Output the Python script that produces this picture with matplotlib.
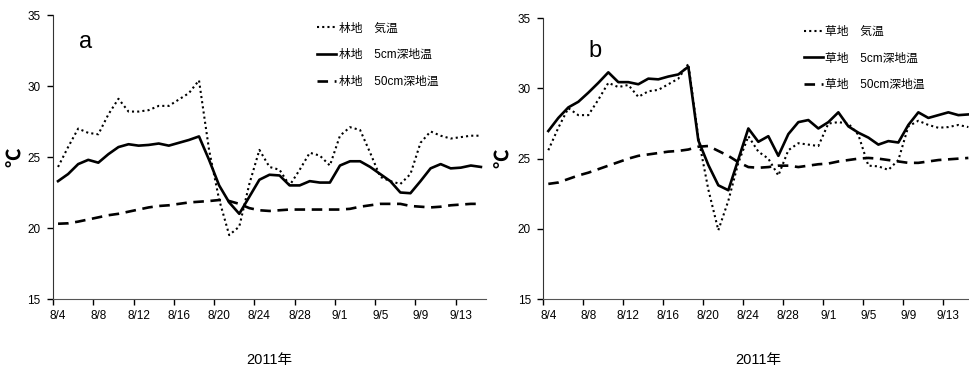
import matplotlib.pyplot as plt
from matplotlib.ticker import FixedLocator, NullFormatter

plt.rcParams['font.family'] = ['Liberation Sans', 'Noto Sans CJK JP']

# 8/4 - 9/15 daily
dates = [f"8/{d}" for d in range(4, 32)] + [f"9/{d}" for d in range(1, 16)]

# a: forest (林地)
a_air = [24.3, 25.7, 27.0, 26.7, 26.6, 28.0, 29.1, 28.2, 28.2, 28.3, 28.6, 28.6, 29.05, 29.5, 30.4,
         25.5, 22.0, 19.5, 20.1, 23.1, 25.5, 24.3, 24.1, 23.0, 24.1, 25.3, 25.1, 24.4, 26.5, 27.1,
         26.9, 25.3, 23.6, 23.3, 23.1, 23.8, 26.0, 26.8, 26.5, 26.3, 26.4, 26.5, 26.5]
a_5cm = [23.3, 23.8, 24.5, 24.8, 24.6, 25.2, 25.7, 25.9, 25.8, 25.85, 25.95, 25.8, 26.0, 26.2, 26.45,
         24.8, 23.0, 21.8, 21.0, 22.2, 23.4, 23.75, 23.7, 23.0, 23.0, 23.3, 23.2, 23.2, 24.4, 24.7,
         24.7, 24.3, 23.8, 23.3, 22.5, 22.45, 23.3, 24.2, 24.5, 24.2, 24.25, 24.4, 24.3]
a_50cm = [20.3, 20.33, 20.45, 20.6, 20.75, 20.9, 21.0, 21.15, 21.3, 21.45, 21.55, 21.6, 21.7, 21.8, 21.85,
          21.9, 21.97, 21.9, 21.7, 21.4, 21.25, 21.2, 21.25, 21.3, 21.3, 21.3, 21.3, 21.3, 21.3, 21.35,
          21.5, 21.6, 21.7, 21.7, 21.7, 21.55, 21.5, 21.45, 21.5, 21.6, 21.65, 21.7, 21.7]

# b: grassland (草地)
b_air = [25.6, 27.2, 28.6, 28.1, 28.1, 29.2, 30.4, 30.1, 30.25, 29.4, 29.8, 29.9, 30.3, 30.7, 31.75,
         26.5, 22.8, 19.9, 22.0, 24.7, 26.6, 25.5, 25.0, 23.8, 25.6, 26.1, 26.0, 25.9, 27.5, 27.6,
         27.5, 26.7, 24.5, 24.45, 24.2, 24.9, 27.3, 27.7, 27.4, 27.2, 27.25, 27.4, 27.25]
b_5cm = [26.97, 27.9, 28.65, 29.05, 29.7, 30.4, 31.15, 30.45, 30.45, 30.3, 30.7, 30.65, 30.85, 31.0, 31.55,
         26.3, 24.55, 23.1, 22.75, 24.95, 27.15, 26.2, 26.6, 25.2, 26.75, 27.6, 27.75, 27.15, 27.6, 28.3,
         27.3, 26.85, 26.5, 26.0, 26.25, 26.15, 27.4, 28.3, 27.9, 28.1, 28.3, 28.1, 28.15]
b_50cm = [23.2, 23.3, 23.55, 23.8, 24.0, 24.25, 24.5, 24.75, 25.0, 25.2, 25.3, 25.4, 25.5, 25.55, 25.65,
          25.85, 25.9, 25.55, 25.2, 24.75, 24.4, 24.35, 24.4, 24.5, 24.5, 24.4, 24.5, 24.6, 24.65, 24.8,
          24.9, 25.0, 25.05, 25.0, 24.9, 24.8, 24.7, 24.7, 24.8, 24.9, 24.95, 25.0, 25.05]

fig = plt.figure(figsize=(9.69, 3.68), dpi=100)
ax_a = fig.add_axes([0.0547, 0.1875, 0.4468, 0.7717])
ax_b = fig.add_axes([0.5607, 0.1875, 0.4438, 0.7628])

x = list(range(len(dates)))


def draw(ax, site, air, t5, t50, tag, tag_xy, leg_xy, ylab_x):
    ax.plot(x, air, color='black', lw=1.5, ls=(0, (1, 1.5)), label=f"{site}　気温")
    ax.plot(x, t5, color='black', lw=1.9, ls='-', label=f"{site}　5cm深地温")
    ax.plot(x, t50, color='black', lw=1.9, ls=(0, (4, 2.5)), label=f"{site}　50cm深地温")
    ax.set_xlim(-0.5, len(dates) - 0.5)
    ax.set_ylim(15, 35)
    ax.set_yticks([15, 20, 25, 30, 35])
    ax.spines['top'].set_visible(False)
    ax.spines['right'].set_visible(False)
    ax.spines['left'].set_color('#333333')
    ax.spines['bottom'].set_color('#555555')
    # tick marks on category boundaries, labels on the points
    ax.xaxis.set_major_locator(FixedLocator([i - 0.5 for i in range(0, len(dates), 4)]))
    ax.xaxis.set_major_formatter(NullFormatter())
    ax.xaxis.set_minor_locator(FixedLocator(list(range(0, len(dates), 4))))
    ax.set_xticklabels([dates[i] for i in range(0, len(dates), 4)], minor=True)
    ax.tick_params(axis='x', which='major', direction='out', length=4, width=1)
    ax.tick_params(axis='x', which='minor', length=0, pad=8, labelsize=8.5)
    ax.tick_params(axis='y', direction='out', length=4, width=1, pad=5, labelsize=8.5)
    ax.set_ylabel("℃", fontsize=14, fontweight='bold')
    ax.yaxis.set_label_coords(ylab_x, 0.5)
    ax.set_xlabel("2011年", fontsize=10.5, labelpad=22)
    ax.text(tag_xy[0], tag_xy[1], tag, transform=ax.transAxes, fontsize=17,
            ha='left', va='center')
    ax.legend(loc='upper left', bbox_to_anchor=leg_xy, frameon=False, fontsize=8.5,
              handlelength=1.6, handletextpad=0.2, labelspacing=1.25, borderaxespad=0)


draw(ax_a, "林地", a_air, a_5cm, a_50cm, "a", (0.06, 0.905), (0.6, 0.99), -0.065)
draw(ax_b, "草地", b_air, b_5cm, b_50cm, "b", (0.105, 0.885), (0.595, 0.99), -0.07)

fig.savefig("out.png", dpi=100)
